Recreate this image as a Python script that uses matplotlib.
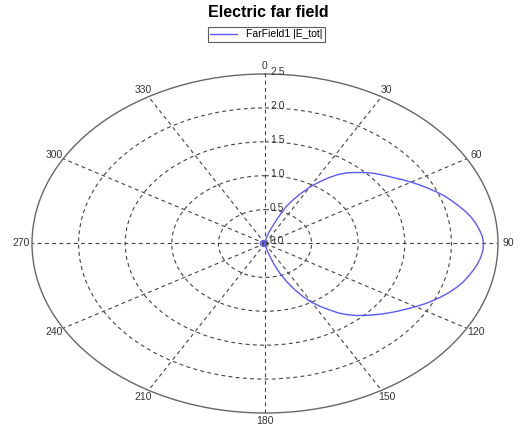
import numpy as np
import matplotlib
matplotlib.use("Agg")
import matplotlib.pyplot as plt
import matplotlib.transforms as mtransforms

plt.rcParams['font.family'] = ['Liberation Sans', 'DejaVu Sans']

# Data: angle (deg) and |E_tot|
theta_deg = [0, 5, 10, 12.5, 15, 17.5, 20, 22.5, 25, 27.5, 30, 32.5, 35, 37.5, 40, 42.5, 45,
             47.5, 50, 52.5, 55, 57.5, 60, 62.5, 65, 67.5, 70, 72.5, 75, 77.5, 80, 82.5, 85,
             87.5, 90, 92.5, 95, 97.5, 100, 102.5, 105, 107.5, 110, 112.5, 115, 117.5, 120,
             122.5, 125, 127.5, 130, 132.5, 135, 137.5, 140, 142.5, 145, 147.5, 150, 152.5,
             155, 157.5, 160, 162.5, 165, 167.5, 170, 175, 180, 185, 190, 210, 240, 270,
             300, 330, 350, 355, 360]
e_tot = [0.0, 0.02, 0.08, 0.12, 0.18, 0.26, 0.40, 0.58, 0.71, 0.83, 0.96, 1.07, 1.18, 1.28,
         1.36, 1.42, 1.48, 1.54, 1.59, 1.64, 1.69, 1.75, 1.81, 1.87, 1.93, 1.99, 2.05, 2.10,
         2.15, 2.20, 2.245, 2.28, 2.31, 2.335, 2.345, 2.34, 2.325, 2.30, 2.27, 2.235, 2.20,
         2.155, 2.105, 2.05, 1.99, 1.93, 1.865, 1.80, 1.74, 1.68, 1.62, 1.56, 1.50, 1.44, 1.37,
         1.29, 1.19, 1.10, 1.00, 0.88, 0.75, 0.61, 0.47, 0.32, 0.17, 0.09, 0.05, 0.02, 0.0,
         0.02, 0.04, 0.05, 0.05, 0.05, 0.05, 0.05, 0.04, 0.02, 0.0]
r_ticks = [0.5, 1.0, 1.5, 2.0]
r_labels = ["0.0", "0.5", "1.0", "1.5", "2.0", "2.5"]
r_label_vals = [0.0, 0.5, 1.0, 1.5, 2.0, 2.5]
angle_ticks = list(range(0, 360, 30))
r_max = 2.5

fig = plt.figure(figsize=(5.23, 4.30), dpi=100)
ax = fig.add_axes([32/523, 1-413/430, 466/523, 339/430], projection='polar')
ax.set_aspect('auto')
ax.set_theta_zero_location('N')
ax.set_theta_direction(-1)
ax.set_ylim(0, r_max)

ax.plot(np.deg2rad(theta_deg), e_tot, color='#5a5aff', lw=1.0, label='FarField1 |E_tot|')

ax.set_rgrids(r_ticks, labels=[''] * len(r_ticks))
ax.set_thetagrids(angle_ticks, labels=[''] * len(angle_ticks))
ax.grid(True, color='#444444', linestyle=(0, (3.5, 3)), linewidth=0.8)
ax.spines['polar'].set_color('#666666')
ax.spines['polar'].set_linewidth(1.0)

off = mtransforms.offset_copy(ax.transData, fig=fig, x=5, y=2, units='dots')
for v, lab in zip(r_label_vals, r_labels):
    ax.text(0, v, lab, transform=off, ha='left', va='center', fontsize=7.5, color='#333333')

for a in angle_ticks:
    ax.text(np.deg2rad(a), r_max * 1.045, str(a), ha='center', va='center',
            fontsize=7.5, color='#333333')

fig.suptitle('Electric far field', x=0.513, y=0.988, fontsize=11.5, fontweight='bold')
leg = fig.legend(loc='center', bbox_to_anchor=(0.509, 0.920), fontsize=7.5, frameon=True,
                 fancybox=False, edgecolor='#333333', handlelength=2.6, borderpad=0.25,
                 handletextpad=0.8)
leg.get_frame().set_linewidth(0.8)

fig.savefig('out.png', dpi=100)
